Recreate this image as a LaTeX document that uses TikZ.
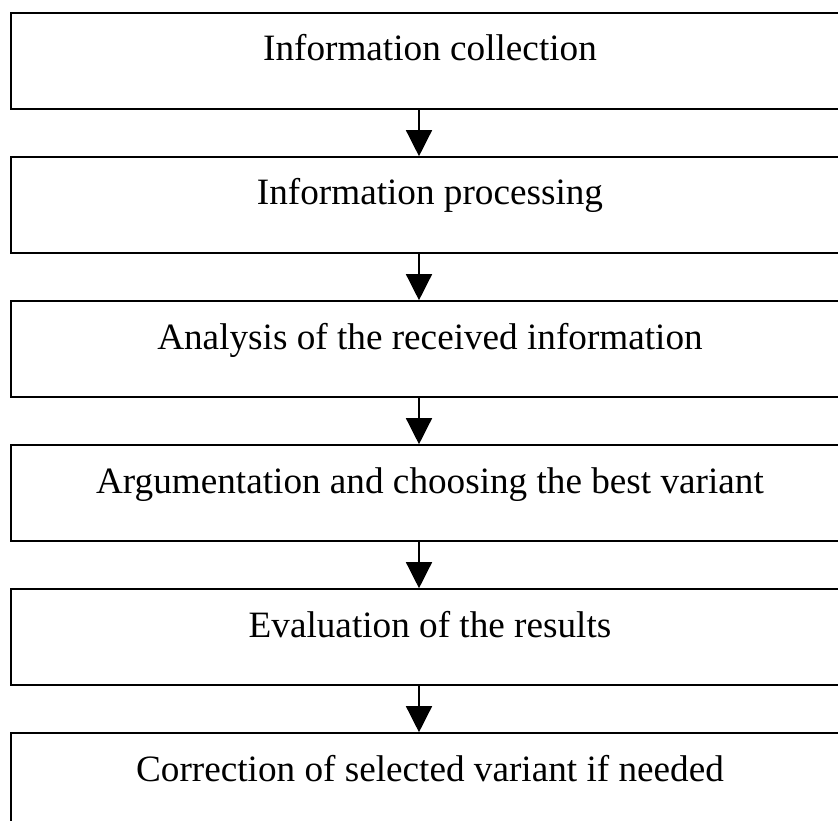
\documentclass[tikz,border=0pt]{standalone}
\usepackage{fontspec}
\setmainfont{Liberation Serif}
\usetikzlibrary{arrows.meta}

\begin{document}
\begin{tikzpicture}[x=1pt, y=-1pt,
    every node/.style={draw, line width=1.6pt, rectangle, inner sep=0pt, minimum width=838pt, minimum height=96pt, text height=12pt, text depth=12pt, font=\fontsize{37.2}{44}\selectfont},
    arr/.style={line width=1.4pt, -{Triangle[length=26pt, width=26pt]}} ]
        \clip (0,0) rectangle (838,821);
        \node (b1) at (430,61) {Information collection};
        \node (b2) at (430,205) {Information processing};
        \node (b3) at (430,349) {Analysis of the received information};
        \node (b4) at (430,493) {Argumentation and choosing the best variant};
        \node (b5) at (430,637) {Evaluation of the results};
        \node (b6) at (430,781) {Correction of selected variant if needed};
        \coordinate (ax) at (419,0);
        \draw[arr] (b1.south -| ax)--(b2.north -| ax);
        \draw[arr] (b2.south -| ax)--(b3.north -| ax);
        \draw[arr] (b3.south -| ax)--(b4.north -| ax);
        \draw[arr] (b4.south -| ax)--(b5.north -| ax);
        \draw[arr] (b5.south -| ax)--(b6.north -| ax);
    \end{tikzpicture}
\end{document}
